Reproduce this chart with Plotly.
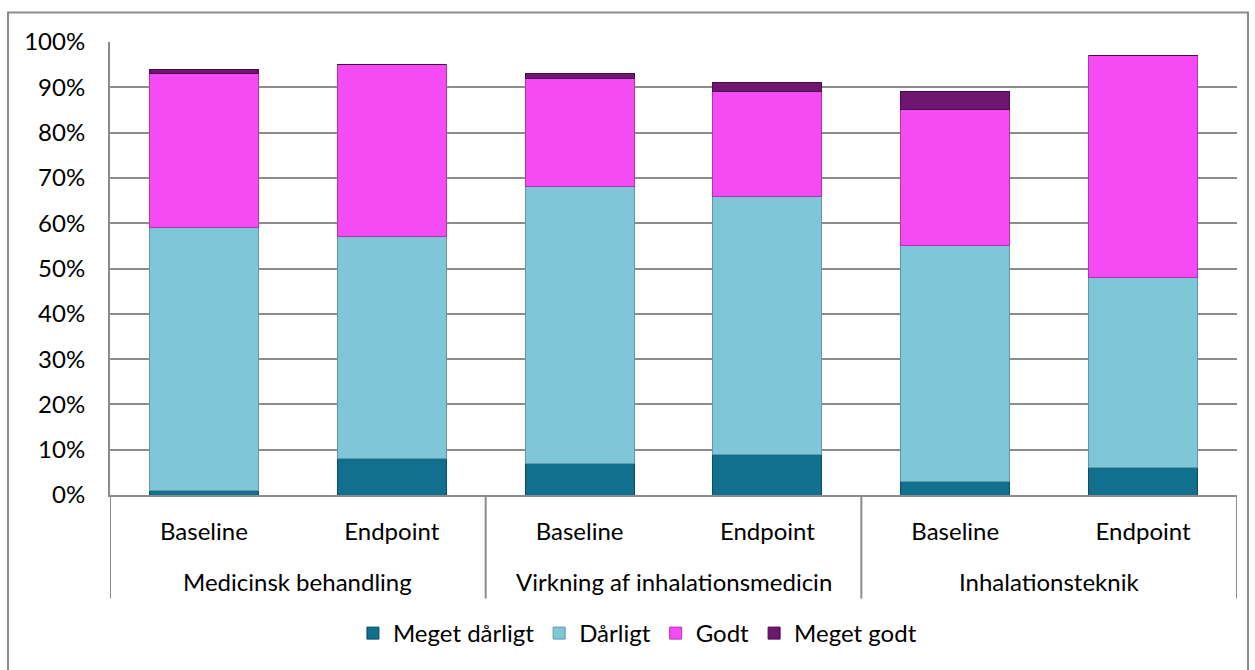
import plotly.graph_objects as go

group_names = ["Medicinsk behandling", "Virkning af inhalationsmedicin", "Inhalationsteknik"]
phases = ["Baseline", "Endpoint", "Baseline", "Endpoint", "Baseline", "Endpoint"]
bar_group = [0, 0, 1, 1, 2, 2]

meget_daarligt = [0.01, 0.08, 0.07, 0.09, 0.03, 0.06]
daarligt = [0.58, 0.49, 0.61, 0.57, 0.52, 0.42]
godt = [0.34, 0.38, 0.24, 0.23, 0.30, 0.49]
meget_godt = [0.01, 0.00, 0.01, 0.02, 0.04, 0.00]

series_names = ["Meget dårligt", "Dårligt", "Godt", "Meget godt"]
series_values = [meget_daarligt, daarligt, godt, meget_godt]
fill_colors = ["#11708E", "#7FC6D8", "#F44BF4", "#6E1670"]
line_colors = ["#0A4E64", "#5E99A8", "#B233B2", "#4A0A4B"]

FONT = "Lato"
GRAY = "#8C8C8C"
FS = 24

xpos = list(range(len(phases)))

fig = go.Figure()
for name, vals, fc, lc in zip(series_names, series_values, fill_colors, line_colors):
    fig.add_trace(go.Bar(
        x=xpos, y=vals, name=name,
        marker=dict(color=fc, line=dict(color=lc, width=1)),
    ))

# group label annotations and dividers
annotations = []
for g, gname in enumerate(group_names):
    members = [i for i, b in enumerate(bar_group) if b == g]
    center = sum(members) / len(members)
    annotations.append(dict(x=center, y=-(582 - 495.5) / 453, xref="x", yref="paper",
                            text=gname, showarrow=False, xanchor="center", yanchor="middle",
                            font=dict(family=FONT, size=FS, color="black")))

boundaries = [-0.5] + [i + 0.5 for i in range(len(bar_group) - 1)
                       if bar_group[i] != bar_group[i + 1]] + [len(bar_group) - 0.5]

shapes = [dict(type="line", xref="x", yref="paper", x0=b, x1=b, y0=0,
               y1=-(599 - 495.5) / 453, line=dict(color=GRAY, width=2))
          for b in boundaries]
shapes.append(dict(type="rect", xref="paper", yref="paper",
                   x0=(8 - 110) / 1127, x1=(1248 - 110) / 1127,
                   y0=-0.6, y1=(495.5 - 13) / 453,
                   line=dict(color=GRAY, width=2), fillcolor="rgba(0,0,0,0)", layer="below"))

fig.update_layout(
    width=1255, height=670, autosize=False,
    margin=dict(l=110, r=18, t=42, b=175),
    barmode="stack", bargap=0.42,
    plot_bgcolor="white", paper_bgcolor="white",
    font=dict(family=FONT, size=FS, color="black"),
    showlegend=True,
    legend=dict(orientation="h", x=0.468, xanchor="center", y=-(634 - 495.5) / 453,
                yanchor="middle", font=dict(size=FS), traceorder="normal",
                bgcolor="rgba(0,0,0,0)"),
    xaxis=dict(tickmode="array", tickvals=xpos, ticktext=phases,
               showline=True, linecolor=GRAY, linewidth=2, ticks="", showgrid=False,
               zeroline=False, tickfont=dict(size=FS), ticklabelstandoff=14,
               range=[-0.5, len(phases) - 0.5]),
    yaxis=dict(range=[0, 1], dtick=0.1, tickformat=".0%", showgrid=True,
               gridcolor=GRAY, gridwidth=1.5, showline=True, linecolor=GRAY, linewidth=2,
               ticks="", ticklabelstandoff=18, tickfont=dict(size=FS), zeroline=False),
    annotations=annotations,
    shapes=shapes,
)

fig.write_html("out.html")
